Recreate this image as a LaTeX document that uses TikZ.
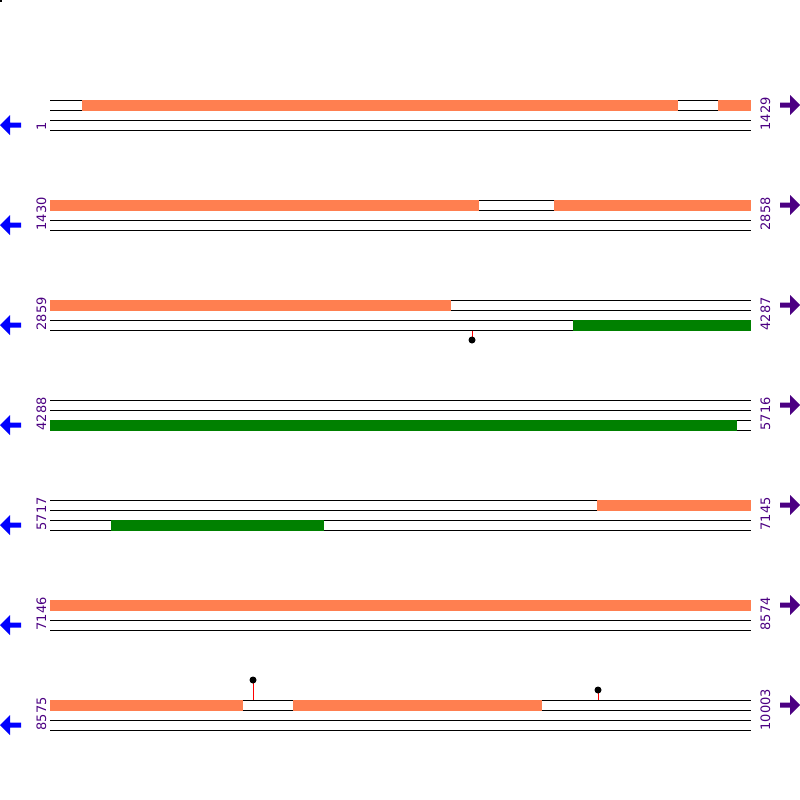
\documentclass[tikz,border=0pt]{standalone}
\usepackage{fontspec}
\setmainfont{DejaVu Sans}
\definecolor{featorange}{HTML}{FF7F50}
\definecolor{featgreen}{HTML}{008000}
\definecolor{labelpurple}{HTML}{4B0082}
\definecolor{arrowblue}{HTML}{0000FF}
\begin{document}
\begin{tikzpicture}[x=1pt,y=-1pt,
  strand/.style={black,line width=1pt},
  orangebox/.style={fill=featorange,draw=none},
  greenbox/.style={fill=featgreen,draw=none},
  poslabel/.style={text=labelpurple,rotate=90,anchor=base west,inner sep=0pt,font=\fontsize{13}{13}\selectfont},
  stemline/.style={red,line width=1pt},
  knob/.style={circle,fill=black,inner sep=0pt,minimum size=7pt}]
\useasboundingbox (0,0) rectangle (800,800);
\fill[black] (0,0) rectangle (2,2);
% rows
\foreach \r/\a/\b [count=\i] in {100/1/1429,200/1430/2858,300/2859/4287,400/4288/5716,500/5717/7145,600/7146/8574,700/8575/10003}{
  \foreach \d in {0,10,20,30}{\draw[strand] (50,\r+\d) -- (751,\r+\d);}
  \node[poslabel] (L\i) at (46,\r+30.5) {\a};
  \node[poslabel] (R\i) at (770,\r+30.5) {\b};
  \fill[arrowblue] (0,\r+25) -- (10,\r+15) -- (10,\r+22.5) -- (21,\r+22.5) -- (21,\r+27.5) -- (10,\r+27.5) -- (10,\r+35) -- cycle;
  \fill[labelpurple] (800,\r+5) -- (790,\r-5) -- (790,\r+2.5) -- (780,\r+2.5) -- (780,\r+7.5) -- (790,\r+7.5) -- (790,\r+15) -- cycle;
}
% row 1
\fill[orangebox] (82,99.5) rectangle (678,110.5);
\fill[orangebox] (718,99.5) rectangle (751,110.5);
% row 2
\fill[orangebox] (50,199.5) rectangle (479,210.5);
\fill[orangebox] (554,199.5) rectangle (751,210.5);
% row 3
\fill[orangebox] (50,299.5) rectangle (451,310.5);
\fill[greenbox] (573,319.5) rectangle (751,330.5);
\draw[stemline] (472,330.5) -- (472,338);
\node[knob] (m1) at (472,340) {};
% row 4
\fill[greenbox] (50,419.5) rectangle (737,430.5);
% row 5
\fill[orangebox] (597,499.5) rectangle (751,510.5);
\fill[greenbox] (111,519.5) rectangle (324,530.5);
% row 6
\fill[orangebox] (50,599.5) rectangle (751,610.5);
% row 7
\fill[orangebox] (50,699.5) rectangle (243,710.5);
\fill[orangebox] (293,699.5) rectangle (542,710.5);
\draw[stemline] (253,699.5) -- (253,682);
\node[knob] (m2) at (253,680) {};
\draw[stemline] (598,699.5) -- (598,692);
\node[knob] (m3) at (598,690) {};
\end{tikzpicture}
\end{document}
